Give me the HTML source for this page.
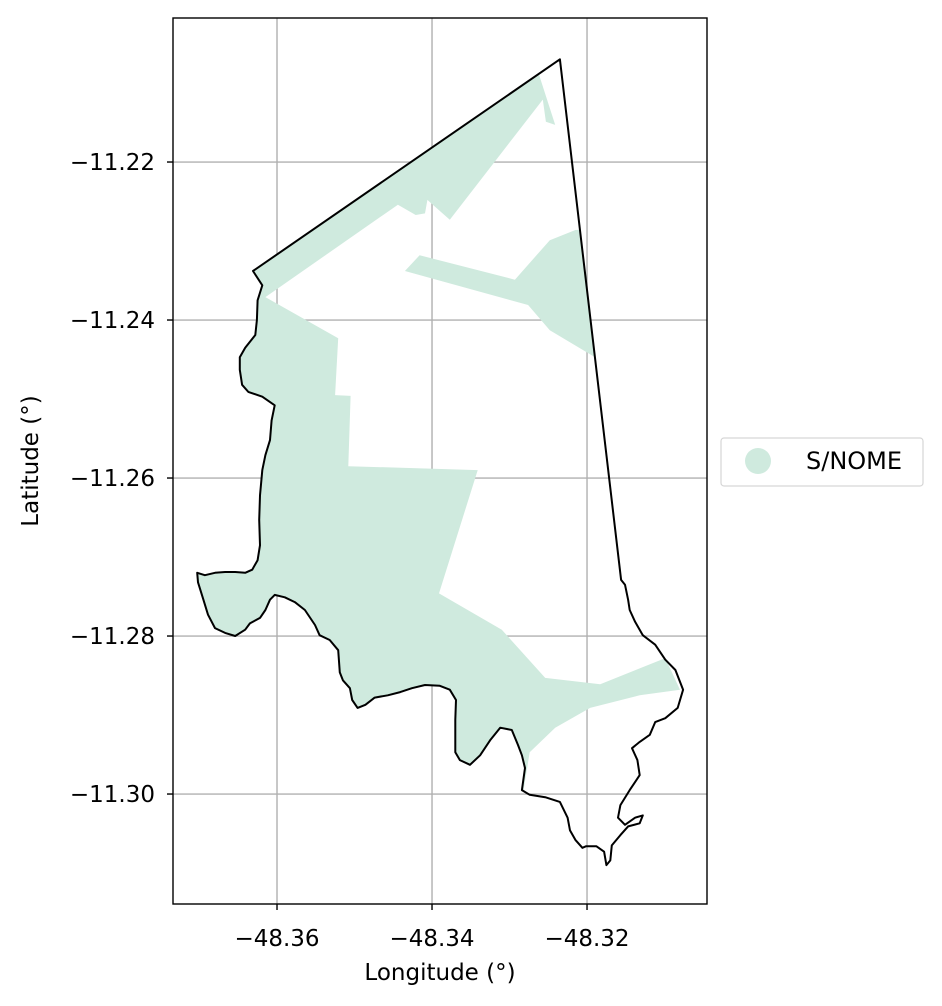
<!DOCTYPE html>
<html><head><meta charset="utf-8">
<style>
html,body{margin:0;padding:0;background:#fff;}
svg{display:block;font-family:"DejaVu Sans","Liberation Sans",sans-serif;}
</style></head>
<body>
<svg id="chart" width="942" height="1006" viewBox="0 0 942 1006" xmlns="http://www.w3.org/2000/svg">
<defs><clipPath id="bclip"><path id="clipPathShape"/></clipPath>
<clipPath id="axclip"><rect x="173" y="18" width="534" height="886"/></clipPath></defs>
<g id="grid"></g>
<g clip-path="url(#axclip)"><g id="fills" clip-path="url(#bclip)"></g>
<path id="outline" fill="none" stroke="#000" stroke-width="2" stroke-linejoin="round"/></g>
<rect x="173" y="18" width="534" height="886" fill="none" stroke="#000" stroke-width="1.4"/>
<g id="ticks"></g>
<text x="440" y="980" style="font-size:23px" text-anchor="middle">Longitude (°)</text>
<text transform="translate(38,461) rotate(-90)" style="font-size:23px" text-anchor="middle">Latitude (°)</text>
<g>
<rect x="721" y="438" width="202" height="48" rx="3" fill="#fff" stroke="#d6d6d6" stroke-width="1.2"/>
<circle cx="758" cy="461" r="13" fill="#cfeade"/>
<text x="806" y="469" style="font-size:24px">S/NOME</text>
</g>
</svg>
<script>
const xTicks=[-48.36,-48.34,-48.32];
const yTicks=[-11.22,-11.24,-11.26,-11.28,-11.30];
const xTickLabels=["−48.36","−48.34","−48.32"];
const yTickLabels=["−11.22","−11.24","−11.26","−11.28","−11.30"];
const boundary=[[-48.3631,-11.2338],[-48.3235,-11.207],[-48.3156,-11.2729],[-48.3151,-11.2735],[-48.3147,-11.2754],[-48.3145,-11.2767],[-48.3138,-11.2782],[-48.3128,-11.2799],[-48.3112,-11.2811],[-48.3099,-11.283],[-48.3086,-11.2843],[-48.3076,-11.2868],[-48.3083,-11.2891],[-48.3099,-11.2904],[-48.3112,-11.2909],[-48.3119,-11.2925],[-48.3132,-11.2934],[-48.3142,-11.2942],[-48.3135,-11.2957],[-48.3132,-11.2976],[-48.3145,-11.2995],[-48.3157,-11.3014],[-48.316,-11.303],[-48.3151,-11.3039],[-48.3138,-11.303],[-48.3128,-11.3027],[-48.3132,-11.3037],[-48.3147,-11.3041],[-48.3157,-11.3052],[-48.3168,-11.3065],[-48.317,-11.3084],[-48.3175,-11.309],[-48.3178,-11.3073],[-48.3188,-11.3066],[-48.3201,-11.3066],[-48.3206,-11.3068],[-48.3215,-11.3058],[-48.3222,-11.3046],[-48.3225,-11.303],[-48.3235,-11.301],[-48.3254,-11.3004],[-48.3274,-11.3001],[-48.3284,-11.2995],[-48.328,-11.2967],[-48.3284,-11.2951],[-48.3289,-11.2938],[-48.3297,-11.2919],[-48.3312,-11.2916],[-48.3325,-11.2932],[-48.3338,-11.2951],[-48.3351,-11.2963],[-48.3364,-11.2957],[-48.337,-11.2947],[-48.337,-11.2906],[-48.3369,-11.2881],[-48.3377,-11.2868],[-48.339,-11.2863],[-48.3409,-11.2862],[-48.3426,-11.2866],[-48.3441,-11.2871],[-48.3457,-11.2875],[-48.3474,-11.2878],[-48.3486,-11.2887],[-48.3496,-11.2891],[-48.3503,-11.2881],[-48.3506,-11.2866],[-48.3515,-11.2856],[-48.3519,-11.2846],[-48.3521,-11.2818],[-48.3532,-11.2805],[-48.3545,-11.2799],[-48.3551,-11.2786],[-48.3564,-11.2767],[-48.3577,-11.2757],[-48.359,-11.2751],[-48.3603,-11.2748],[-48.3609,-11.2754],[-48.3615,-11.2767],[-48.3622,-11.2777],[-48.3635,-11.2784],[-48.3641,-11.2792],[-48.3654,-11.28],[-48.3667,-11.2796],[-48.368,-11.279],[-48.3689,-11.2773],[-48.3695,-11.2754],[-48.3702,-11.2732],[-48.3703,-11.272],[-48.3693,-11.2723],[-48.368,-11.272],[-48.3667,-11.2719],[-48.3654,-11.2719],[-48.3641,-11.272],[-48.3632,-11.2716],[-48.3625,-11.2704],[-48.3622,-11.2685],[-48.3623,-11.2653],[-48.3622,-11.2622],[-48.3619,-11.259],[-48.3615,-11.2571],[-48.3609,-11.2552],[-48.3607,-11.2527],[-48.3603,-11.2508],[-48.3619,-11.2497],[-48.3637,-11.2491],[-48.3645,-11.2482],[-48.3648,-11.2463],[-48.3648,-11.2447],[-48.3641,-11.2435],[-48.3628,-11.2419],[-48.3626,-11.24],[-48.3625,-11.2375],[-48.3619,-11.2356]];
const fillMain=[[-48.3648,-11.2327],[-48.3267,-11.2071],[-48.3261,-11.2092],[-48.3241,-11.2153],[-48.3253,-11.2149],[-48.3257,-11.2121],[-48.3377,-11.2273],[-48.3399,-11.2254],[-48.3406,-11.2248],[-48.3409,-11.2265],[-48.3421,-11.2267],[-48.3444,-11.2254],[-48.3615,-11.2371],[-48.3521,-11.2423],[-48.3525,-11.2495],[-48.3505,-11.2496],[-48.3508,-11.2585],[-48.3341,-11.259],[-48.3391,-11.2746],[-48.331,-11.2792],[-48.3254,-11.2853],[-48.3183,-11.2861],[-48.3099,-11.2828],[-48.308,-11.2868],[-48.3132,-11.2875],[-48.3196,-11.2891],[-48.3241,-11.2916],[-48.3274,-11.2947],[-48.3284,-11.3008],[-48.3764,-11.3134],[-48.3764,-11.2311]];
const fillStrip=[[-48.3435,-11.2338],[-48.3416,-11.2318],[-48.3293,-11.2349],[-48.3248,-11.2299],[-48.3215,-11.2286],[-48.3183,-11.2284],[-48.3183,-11.2451],[-48.3248,-11.2413],[-48.3276,-11.2381]];
const X0=-48.37342,X1=-48.30452,Y0=-11.31392,Y1=-11.20177;
function sx(v){return 173+(v-X0)/(X1-X0)*534;}
function sy(v){return 904-(v-Y0)/(Y1-Y0)*886;}
function pathOf(a){return a.map((p,i)=>(i?'L':'M')+sx(p[0]).toFixed(1)+','+sy(p[1]).toFixed(1)).join('')+'Z';}
const NS='http://www.w3.org/2000/svg';
document.getElementById('clipPathShape').setAttribute('d',pathOf(boundary));
document.getElementById('outline').setAttribute('d',pathOf(boundary));
const fills=document.getElementById('fills');
[fillMain,fillStrip].forEach((f,i)=>{
  const p=document.createElementNS(NS,'path');
  p.setAttribute('d',pathOf(f));p.setAttribute('fill','#cfeade');
  
  
  fills.appendChild(p);
});
const grid=document.getElementById('grid'),ticks=document.getElementById('ticks');
function line(g,x1,y1,x2,y2,c,w,name){const l=document.createElementNS(NS,'line');
  l.setAttribute('x1',x1);l.setAttribute('y1',y1);l.setAttribute('x2',x2);l.setAttribute('y2',y2);
  l.setAttribute('stroke',c);l.setAttribute('stroke-width',w);
  
  
  g.appendChild(l);}
function text(x,y,s,anchor,name){const t=document.createElementNS(NS,'text');
  t.setAttribute('x',x);t.setAttribute('y',y);t.setAttribute('style','font-size:23px');t.setAttribute('text-anchor',anchor);t.textContent=s;
  
  
  ticks.appendChild(t);}
xTicks.forEach((v,i)=>{const x=sx(v);line(grid,x,18,x,904,'#b0b0b0',1.4,'x-grid-line');
  line(ticks,x,904,x,910,'#000',1.4,'x-tick');text(x,946,xTickLabels[i],'middle','x-tick-label');});
yTicks.forEach((v,i)=>{const y=sy(v);line(grid,173,y,707,y,'#b0b0b0',1.4,'y-grid-line');
  line(ticks,167,y,173,y,'#000',1.4,'y-tick');text(155,y+8,yTickLabels[i],'end','y-tick-label');});
</script>
</body></html>
